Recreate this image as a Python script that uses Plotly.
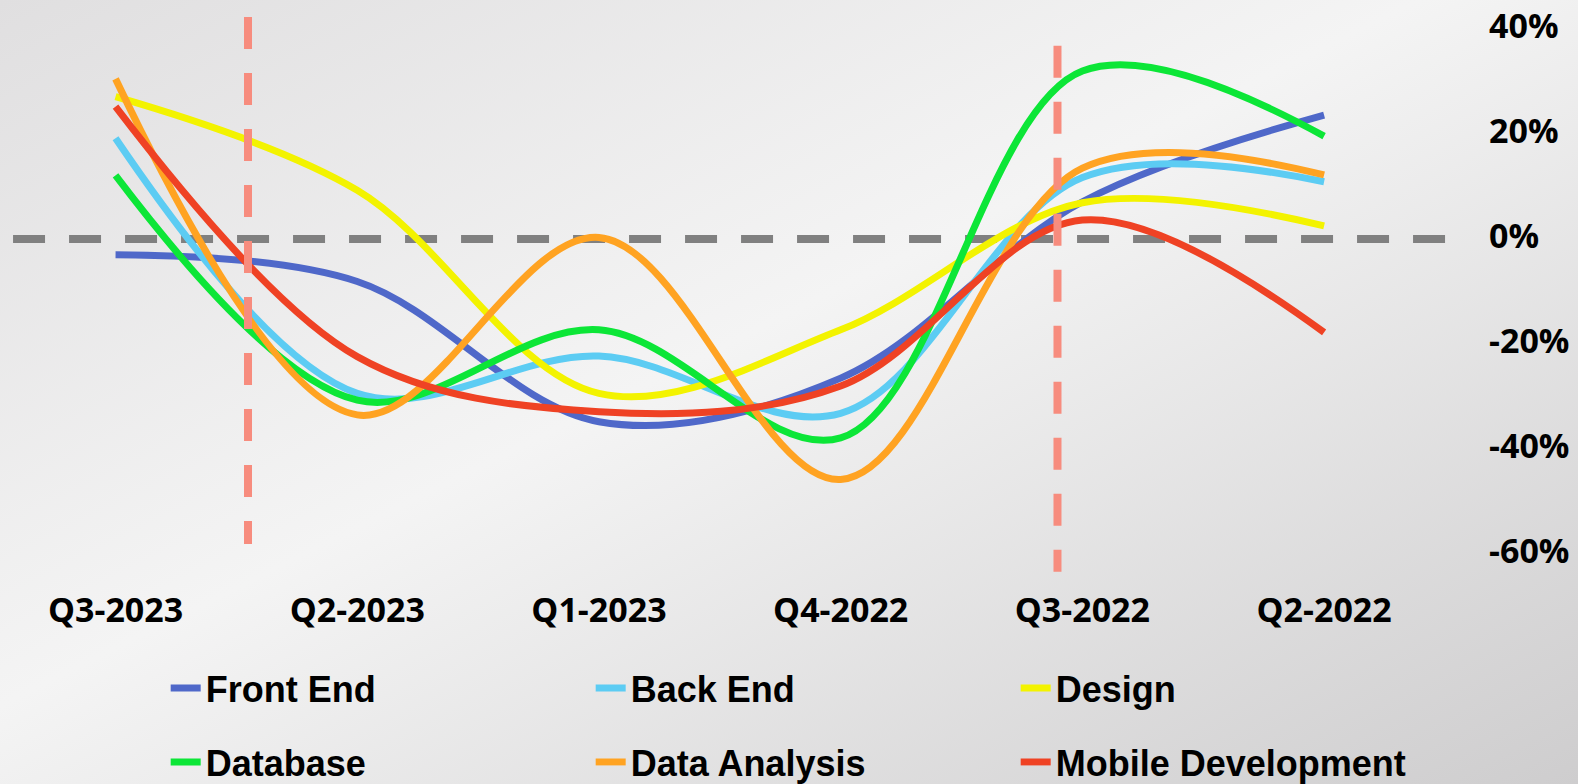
import base64
import plotly.graph_objects as go

# quarters run newest -> oldest, left to right, as in the source slide
quarters = ["Q3-2023", "Q2-2023", "Q1-2023", "Q4-2022", "Q3-2022", "Q2-2022"]

# quarter-on-quarter change, in %
front_end = [-3.0, -8.1, -34.8, -26.5, 7.1, 23.6]
back_end = [19.2, -29.4, -22.3, -33.2, 11.7, 10.9]
design = [27.1, 9.3, -29.4, -17.3, 6.9, 2.5]
database = [12.1, -30.7, -17.3, -37.9, 32.0, 19.6]
data_analysis = [30.5, -33.5, 0.3, -45.8, 13.5, 12.2]
mobile_dev = [25.2, -22.4, -32.9, -28.0, 3.6, -17.8]

y_ticks = [-60, -40, -20, 0, 20, 40]
y_tick_text = ["-60%", "-40%", "-20%", "0%", "20%", "40%"]

series = [
    ("Front End", front_end, "#4F68C9", "legend"),
    ("Back End", back_end, "#5CCCF3", "legend"),
    ("Design", design, "#F3F300", "legend"),
    ("Database", database, "#0CE637", "legend2"),
    ("Data Analysis", data_analysis, "#FFA322", "legend2"),
    ("Mobile Development", mobile_dev, "#EF4224", "legend2"),
]

W, H = 1578, 784

# soft grey diagonal backdrop like the slide
bg_svg = (
    f'<svg xmlns="http://www.w3.org/2000/svg" width="{W}" height="{H}">'
    '<defs><linearGradient id="g" x1="0" y1="0" x2="1" y2="1">'
    '<stop offset="0" stop-color="#e0dfe0"/>'
    '<stop offset="0.45" stop-color="#f4f4f4"/>'
    '<stop offset="1" stop-color="#cecdce"/>'
    '</linearGradient></defs>'
    '<rect width="100%" height="100%" fill="url(#g)"/></svg>'
)
bg_uri = "data:image/svg+xml;base64," + base64.b64encode(bg_svg.encode()).decode()

fig = go.Figure()
for name, vals, color, leg in series:
    fig.add_trace(go.Scatter(
        x=quarters, y=vals, name=name, mode="lines",
        line=dict(color=color, width=7, shape="spline", smoothing=1.0),
        legend=leg,
    ))

dash = "32px,24px"
# zero reference line (under the curves)
fig.add_shape(type="line", x0=-0.424, x1=5.503, y0=0, y1=0, layer="below",
              line=dict(color="#808080", width=8, dash=dash))
# period markers (over the curves)
fig.add_shape(type="line", x0=0.548, x1=0.548, y0=42.3, y1=-58.1, layer="above",
              line=dict(color="#F78C7E", width=8, dash=dash))
fig.add_shape(type="line", x0=3.897, x1=3.897, y0=36.8, y1=-63.4, layer="above",
              line=dict(color="#F78C7E", width=8, dash=dash))

legend_font = dict(family="Liberation Sans, Arial", size=36, color="#000000", weight="bold")
legend_common = dict(orientation="h", entrywidth=380, entrywidthmode="pixels",
                     bgcolor="rgba(0,0,0,0)", font=legend_font,
                     xanchor="left", yanchor="middle", x=0.105)

fig.update_layout(
    width=W, height=H,
    margin=dict(l=0, r=0, t=0, b=0, autoexpand=False),
    paper_bgcolor="#eeeeee",
    plot_bgcolor="rgba(0,0,0,0)",
    showlegend=True,
    images=[dict(source=bg_uri, xref="paper", yref="paper", x=0, y=1,
                 sizex=1, sizey=1, sizing="stretch", layer="below")],
    xaxis=dict(
        domain=[0, 1480 / W], range=[-0.478, 5.645],
        showgrid=False, zeroline=False, showline=False, ticks="",
        tickfont=dict(family="Open Sans", size=34, color="#000000", weight="bold"),
        ticklabelstandoff=1,
    ),
    yaxis=dict(
        domain=[1 - 585.5 / H, 1 - 2.75 / H], range=[-66, 45],
        side="right", tickvals=y_ticks, ticktext=y_tick_text,
        showgrid=False, zeroline=False, showline=False, ticks="",
        tickfont=dict(family="Open Sans", size=34, color="#000000", weight="bold"),
        ticklabelshift=-3, ticklabelstandoff=8,
    ),
    legend=dict(y=1 - 688 / H, **legend_common),
    legend2=dict(y=1 - 762 / H, **legend_common),
    hovermode=False,
)

# pin the page to exactly the figure size: no body margin, no scrollbars
page_fix = (
    "for (const el of [document.documentElement, document.body]) {"
    " el.style.margin='0'; el.style.padding='0'; el.style.overflow='hidden'; }"
)
fig.write_html("out.html", config={"displayModeBar": False}, post_script=page_fix)
